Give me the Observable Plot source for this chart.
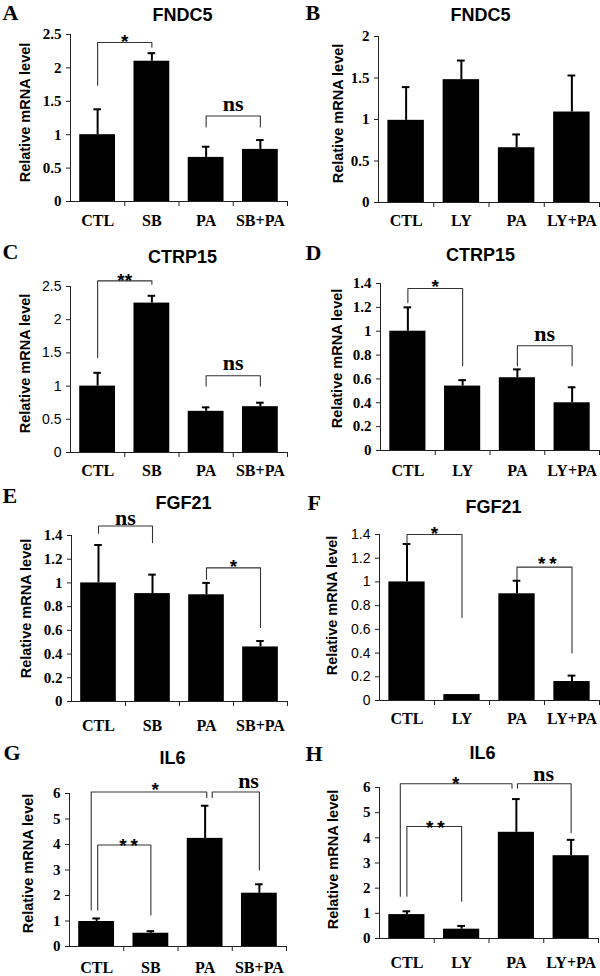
<!DOCTYPE html>
<html><head><meta charset="utf-8">
<script src="https://cdn.jsdelivr.net/npm/d3@7"></script>
<script src="https://cdn.jsdelivr.net/npm/@observablehq/plot@0.6"></script>
<style>
body{margin:0;background:#fff;}
#wrap{position:relative;width:600px;height:976px;overflow:hidden;background:#fff;}
#wrap > svg{position:absolute;overflow:visible;}
</style></head><body><div id="wrap"></div>
<script>
// ---- categories ----
const catSB = ["CTL", "SB", "PA", "SB+PA"];
const catLY = ["CTL", "LY", "PA", "LY+PA"];

// ---- values (mean) and error (SD) ----
const valA = [1.00, 2.10, 0.66, 0.78]; const errA = [0.38, 0.12, 0.16, 0.14];
const valB = [0.99, 1.48, 0.66, 1.09]; const errB = [0.40, 0.23, 0.16, 0.44];
const valC = [1.00, 2.25, 0.62, 0.69]; const errC = [0.20, 0.11, 0.06, 0.06];
const valD = [1.00, 0.54, 0.61, 0.40]; const errD = [0.20, 0.05, 0.07, 0.13];
const valE = [1.00, 0.91, 0.90, 0.46]; const errE = [0.32, 0.16, 0.10, 0.05];
const valF = [1.00, 0.05, 0.90, 0.16]; const errF = [0.32, 0.00, 0.11, 0.05];
const valG = [0.98, 0.52, 4.24, 2.09]; const errG = [0.12, 0.08, 1.28, 0.35];
const valH = [0.95, 0.37, 4.22, 3.29]; const errH = [0.13, 0.13, 1.32, 0.63];

// ---- y tick values ----
const ticks25 = [0, 0.5, 1, 1.5, 2, 2.5];
const ticks2 = [0, 0.5, 1, 1.5, 2];
const ticks14 = [0, 0.2, 0.4, 0.6, 0.8, 1, 1.2, 1.4];
const ticks6 = [0, 1, 2, 3, 4, 5, 6];

// ---- significance brackets: [from, to, fromShift, toShift, yFrom, yTop, yTo, label, labelX, labelY] ----
const brA = [[0, 1, 0, 0, 1.74, 2.38, 2.31, "*", 0.5, 2.47], [2, 3, 0, 0, 1.115, 1.28, 1.115, "ns", 2.5, 1.455]];
const brB = [];
const brC = [[0, 1, 0, 0, 1.43, 2.585, 2.535, "**", 0.5, 2.66], [2, 3, 0, 0, 1.0, 1.155, 1.0, "ns", 2.5, 1.345]];
const brD = [[0, 1, 0, 0, 1.24, 1.358, 0.71, "*", 0.5, 1.41], [2, 3, 0, 0, 0.71, 0.878, 0.71, "ns", 2.5, 0.975]];
const brE = [[0, 1, 0, 0, 1.42, 1.48, 1.34, "ns", 0.5, 1.55], [2, 3, 0, 0, 1.03, 1.127, 0.625, "*", 2.5, 1.18]];
const brF = [[0, 1, 0, 0, 1.32, 1.40, 0.70, "*", 0.5, 1.45], [2, 3, 0, 0, 1.02, 1.125, 0.40, "*\u2009*", 2.55, 1.19]];
const brG = [[0, 2, -0.1, 0.03, 1.43, 6.06, 5.84, "*", 1.08, 6.35], [2, 3, 0.13, 0, 5.84, 6.06, 3.0, "ns", 2.8, 6.5], [0, 1, 0.02, 0, 1.43, 3.98, 1.24, "*\u2009*", 0.59, 4.15]];
const brH = [[0, 2, -0.12, -0.08, 1.68, 6.15, 5.97, "*", 0.89, 6.35], [2, 3, 0.02, 0, 5.97, 6.15, 4.2, "ns", 2.5, 6.55], [0, 1, 0, 0, 1.68, 4.45, 1.48, "*\u2009*", 0.52, 4.58]];

const SERIF = "'Liberation Serif', 'Times New Roman', serif";
const SANS = "'Liberation Sans', Arial, sans-serif";
const BAR_HALF = 0.33, CAP = 0.07;

const panels = [
  {id: "A", title: "FNDC5", cats: catSB, val: valA, err: errA, ticks: ticks25, br: brA, serifY: true,
   left: 0, top: 0, w: 300, h: 240, mL: 70, mR: 13, mT: 34, mB: 39, letter: [2, 12], tpos: [182, 15], ylab: [25, 112], xlab: 19},
  {id: "B", title: "FNDC5", cats: catLY, val: valB, err: errB, ticks: ticks2, br: brB, serifY: true,
   left: 300, top: 0, w: 300, h: 240, mL: 78, mR: 1, mT: 36, mB: 38, letter: [5, 12], tpos: [180, 15], ylab: [38, 113], xlab: 18.5},
  {id: "C", title: "CTRP15", cats: catSB, val: valC, err: errC, ticks: ticks25, br: brC, serifY: false,
   left: 0, top: 240, w: 300, h: 240, mL: 70, mR: 13, mT: 46, mB: 28, letter: [2, 11], tpos: [182, 17], ylab: [25, 123], xlab: 18.5},
  {id: "D", title: "CTRP15", cats: catLY, val: valD, err: errD, ticks: ticks14, br: brD, serifY: true,
   left: 300, top: 240, w: 300, h: 240, mL: 80, mR: 1, mT: 43, mB: 30, letter: [5, 12], tpos: [180, 15], ylab: [37, 118], xlab: 20},
  {id: "E", title: "FGF21", cats: catSB, val: valE, err: errE, ticks: ticks14, br: brE, serifY: true,
   left: 0, top: 480, w: 300, h: 246, mL: 71, mR: 13, mT: 55, mB: 25, letter: [2, 15], tpos: [183, 23], ylab: [26, 128], xlab: 24},
  {id: "F", title: "FGF21", cats: catLY, val: valF, err: errF, ticks: ticks14, br: brF, serifY: false,
   left: 300, top: 480, w: 300, h: 246, mL: 79, mR: 1, mT: 54, mB: 26, letter: [7, 22], tpos: [193, 27], ylab: [32, 125], xlab: 18},
  {id: "G", title: "IL6", cats: catSB, val: valG, err: errG, ticks: ticks6, br: brG, serifY: true,
   left: 0, top: 726, w: 300, h: 250, mL: 69, mR: 14, mT: 67, mB: 30, letter: [3, 26], tpos: [172, 32], ylab: [28, 137], xlab: 21.5},
  {id: "H", title: "IL6", cats: catLY, val: valH, err: errH, ticks: ticks6, br: brH, serifY: true,
   left: 300, top: 726, w: 300, h: 250, mL: 79, mR: 2, mT: 61, mB: 38, letter: [5, 27], tpos: [182, 27], ylab: [33, 133], xlab: 24}
];

const wrap = document.getElementById("wrap");

for (const p of panels) {
  const idx = [0, 1, 2, 3];
  const ymax = p.ticks[p.ticks.length - 1];
  const rows = idx.map(i => ({i, v: p.val[i], e: p.err[i]}));
  const withErr = rows.filter(d => d.e > 0);
  const segs = [];
  p.br.forEach((b, k) => {
    const [a, c, sa, sc, ya, yt, yc] = b;
    segs.push({k, x: a + sa, y: ya}, {k, x: a + sa, y: yt}, {k, x: c + sc, y: yt}, {k, x: c + sc, y: yc});
  });
  const nsLabels = p.br.filter(b => b[7] === "ns").map(b => ({t: b[7], x: b[8], y: b[9]}));
  const starLabels = p.br.filter(b => b[7] !== "ns").map(b => ({t: b[7], x: b[8], y: b[9]}));

  const chart = Plot.plot({
    width: p.w, height: p.h,
    marginLeft: p.mL, marginRight: p.mR, marginTop: p.mT, marginBottom: p.mB,
    x: {type: "linear", domain: [-0.5, 3.5]},
    y: {type: "linear", domain: [0, ymax]},
    style: {background: "transparent", overflow: "visible", color: "#000"},
    marks: [
      Plot.rect(rows, {x1: d => d.i - BAR_HALF, x2: d => d.i + BAR_HALF, y1: 0, y2: "v", fill: "#000"}),
      Plot.ruleX(withErr, {x: "i", y1: "v", y2: d => d.v + d.e, stroke: "#000", strokeWidth: 2}),
      Plot.ruleY(withErr, {y: d => d.v + d.e, x1: d => d.i - CAP, x2: d => d.i + CAP, stroke: "#000", strokeWidth: 2}),
      Plot.ruleX([-0.5], {y1: 0, y2: ymax, stroke: "#222", strokeWidth: 1}),
      Plot.ruleY([0], {stroke: "#222", strokeWidth: 1}),
      Plot.axisY(p.ticks, {tickSize: 4, tickPadding: 5, tickFormat: d => String(d), label: null,
        fontFamily: p.serifY ? SERIF : SANS, fontWeight: p.serifY ? "bold" : "normal", fontSize: p.serifY ? 15 : 14, stroke: "#222"}),
      Plot.axisX([0.5, 1.5, 2.5, 3.5], {tickSize: 5, tickFormat: () => "", label: null, stroke: "#222"}),
      Plot.axisX(idx, {tickSize: 0, tickPadding: p.xlab - 6, tickFormat: i => p.cats[i], label: null,
        fontFamily: SERIF, fontWeight: "bold", fontSize: 16}),
      Plot.line(segs, {x: "x", y: "y", z: "k", stroke: "#333", strokeWidth: 1.1}),
      Plot.text(nsLabels, {x: "x", y: "y", text: "t", fontFamily: SERIF, fontWeight: "bold", fontSize: 22}),
      Plot.text(starLabels, {x: "x", y: "y", text: "t", fontFamily: SANS, fontWeight: "bold", fontSize: 19, dy: 5}),
      Plot.text([p.title], {frameAnchor: "top-left", textAnchor: "middle", lineAnchor: "middle",
        dx: p.tpos[0] - p.mL, dy: p.tpos[1] - p.mT,
        fontFamily: SANS, fontWeight: "bold", fontSize: 18}),
      Plot.text([p.id], {frameAnchor: "top-left", textAnchor: "start", lineAnchor: "middle",
        dx: p.letter[0] - p.mL, dy: p.letter[1] - p.mT,
        fontFamily: SERIF, fontWeight: "bold", fontSize: 22}),
      Plot.text(["Relative mRNA level"], {frameAnchor: "top-left", textAnchor: "middle", lineAnchor: "middle", rotate: -90,
        dx: p.ylab[0] - p.mL, dy: p.ylab[1] - p.mT,
        fontFamily: SANS, fontWeight: "bold", fontSize: 14.5})
    ]
  });
  chart.style.left = p.left + "px";
  chart.style.top = p.top + "px";
  wrap.appendChild(chart);
}
</script></body></html>
